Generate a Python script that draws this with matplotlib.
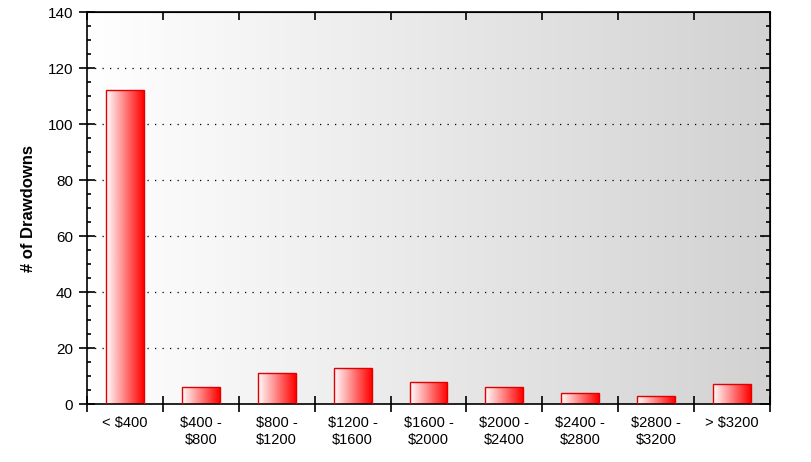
import numpy as np
import matplotlib
matplotlib.use("Agg")
import matplotlib.pyplot as plt
from matplotlib.colors import LinearSegmentedColormap
from matplotlib.ticker import MultipleLocator, FixedLocator, NullFormatter

categories = ["< $400", "$400 -\n$800", "$800 -\n$1200", "$1200 -\n$1600", "$1600 -\n$2000",
              "$2000 -\n$2400", "$2400 -\n$2800", "$2800 -\n$3200", "> $3200"]
values = [112, 6, 11, 13, 8, 6, 4, 3, 7]
y_label = "# of Drawdowns"

plt.rcParams['font.family'] = ['Liberation Sans', 'DejaVu Sans']

fig = plt.figure(figsize=(8.12, 4.62), dpi=100)
ax = fig.add_axes([87/812, 1-404/462, (770-87)/812, (404-12)/462])

x = np.arange(len(values))
ax.set_xlim(-0.5, len(values) - 0.5)
ax.set_ylim(0, 140)

# background gradient
bg = LinearSegmentedColormap.from_list("bg", ["#ffffff", "#d2d2d2"])
grad = np.linspace(0, 1, 256).reshape(1, -1)
ax.imshow(grad, cmap=bg, extent=(0, 1, 0, 1), transform=ax.transAxes,
          aspect='auto', zorder=0)

# bars with gradient
barcm = LinearSegmentedColormap.from_list("bar", ["#ffffff", "#ff0000"])
bars = ax.bar(x, values, width=0.5, color='none', edgecolor='#e00000', linewidth=1.0, zorder=3)
for b in bars:
    x0, w, h = b.get_x(), b.get_width(), b.get_height()
    im = ax.imshow(grad, cmap=barcm, extent=(x0, x0 + w, 0, h), aspect='auto', zorder=2,
                   interpolation='bilinear')
    im.set_clip_path(b)

ax.set_xlim(-0.5, len(values) - 0.5)
ax.set_ylim(0, 140)

# grid
for yv in range(20, 140, 20):
    ax.axhline(yv, color='black', linestyle=(0, (1, 5)), linewidth=0.9, zorder=1)

for s in ax.spines.values():
    s.set_linewidth(1.2)

ax.yaxis.set_major_locator(MultipleLocator(20))
ax.yaxis.set_minor_locator(MultipleLocator(5))
ax.tick_params(axis='y', which='major', direction='inout', length=12, width=1.2, labelsize=11, pad=4)
ax.tick_params(axis='y', which='minor', direction='in', length=3, width=1.2)

ax.set_xticks(x)
ax.set_xticklabels(categories, linespacing=1.25)
ax.xaxis.set_minor_locator(FixedLocator(np.arange(-0.5, len(values), 1.0)))
ax.tick_params(axis='x', which='major', length=0, labelsize=10.5, pad=9)
ax.tick_params(axis='x', which='minor', direction='inout', length=12, width=1.2)

sec_y = ax.secondary_yaxis('right')
sec_y.yaxis.set_major_locator(MultipleLocator(20))
sec_y.yaxis.set_minor_locator(MultipleLocator(5))
sec_y.tick_params(axis='y', which='major', direction='in', length=7, width=1.2, labelright=False)
sec_y.tick_params(axis='y', which='minor', direction='in', length=3, width=1.2)
sec_y.yaxis.set_major_formatter(NullFormatter())

sec_x = ax.secondary_xaxis('top')
sec_x.xaxis.set_major_locator(FixedLocator(np.arange(-0.5, len(values), 1.0)))
sec_x.tick_params(axis='x', which='major', direction='in', length=6, width=1.2, labeltop=False)
sec_x.xaxis.set_major_formatter(NullFormatter())
sec_x.xaxis.set_minor_locator(FixedLocator([]))

ax.set_ylabel(y_label, fontsize=12, fontweight='bold', labelpad=8)

fig.savefig("out.png", dpi=100)
